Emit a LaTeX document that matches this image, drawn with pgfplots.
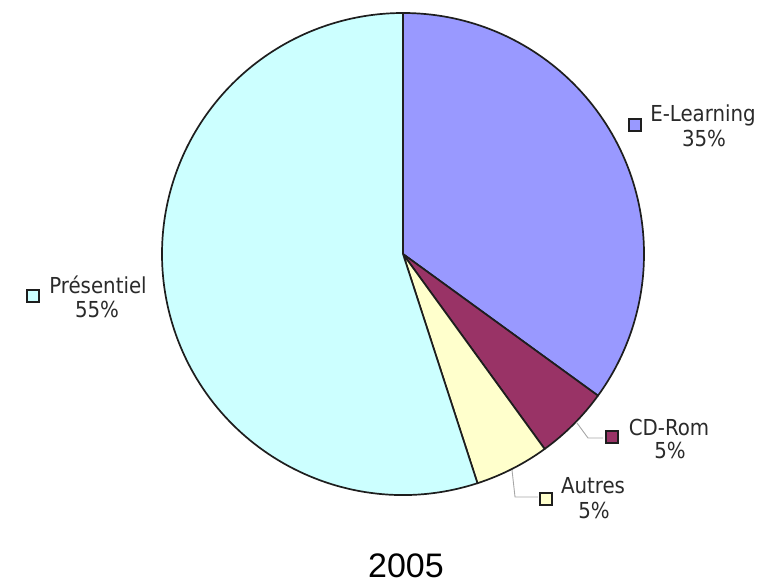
\documentclass[border=0pt]{standalone}
\usepackage{pgfplots}
\pgfplotsset{compat=1.18}
\usepackage{fontspec}
\setmainfont{DejaVu Sans Condensed}
\newfontfamily\ttlfont{Liberation Sans}
\definecolor{elc}{HTML}{9999FF}
\definecolor{cdc}{HTML}{993366}
\definecolor{auc}{HTML}{FFFFCC}
\definecolor{prc}{HTML}{CCFFFF}
\definecolor{txt}{HTML}{2A2A2A}
\definecolor{edge}{HTML}{1E1E1E}
\begin{document}
\begin{tikzpicture}
% shares in percent: E-Learning 35, CD-Rom 5, Autres 5, Presentiel 55
\pgfmathsetmacro\aA{90}
\pgfmathsetmacro\aB{\aA-35*3.6}
\pgfmathsetmacro\aC{\aB-5*3.6}
\pgfmathsetmacro\aD{\aC-5*3.6}
\pgfmathsetmacro\aE{\aD-55*3.6}
\begin{axis}[scale only axis, width=770pt, height=587pt,
  xmin=0, xmax=770, ymin=0, ymax=587, hide axis, clip=false]
\coordinate (bl) at (axis cs:0,0);
\coordinate (tr) at (axis cs:770,587);
\fill[elc, draw=edge, line width=1.7pt, line join=round] (axis cs:403,333) -- +(\aA:241pt) arc[start angle=\aA, end angle=\aB, radius=241pt] -- cycle;
\fill[cdc, draw=edge, line width=1.7pt, line join=round] (axis cs:403,333) -- +(\aB:241pt) arc[start angle=\aB, end angle=\aC, radius=241pt] -- cycle;
\fill[auc, draw=edge, line width=1.7pt, line join=round] (axis cs:403,333) -- +(\aC:241pt) arc[start angle=\aC, end angle=\aD, radius=241pt] -- cycle;
\fill[prc, draw=edge, line width=1.7pt, line join=round] (axis cs:403,333) -- +(\aD:241pt) arc[start angle=\aD, end angle=\aE, radius=241pt] -- cycle;
% leader lines
\addplot[color=gray!70, line width=0.9pt, no markers] coordinates {(577,164) (588,149) (603,149)};
\addplot[color=gray!70, line width=0.9pt, no markers] coordinates {(512,117) (515,90) (538,90)};
% legend keys
\addplot[only marks, mark=square*, mark size=6pt, mark options={fill=elc, draw=edge, line width=1.5pt}] coordinates {(635,462)};
\addplot[only marks, mark=square*, mark size=6pt, mark options={fill=prc, draw=edge, line width=1.5pt}] coordinates {(33,291)};
\addplot[only marks, mark=square*, mark size=6pt, mark options={fill=cdc, draw=edge, line width=1.5pt}] coordinates {(612,150)};
\addplot[only marks, mark=square*, mark size=6pt, mark options={fill=auc, draw=edge, line width=1.5pt}] coordinates {(546,88)};
% labels
\begin{scope}[every node/.style={anchor=base, inner sep=0pt, text=txt, font=\fontsize{22}{26}\selectfont}]
\node at (axis cs:703,465) {E-Learning};
\node at (axis cs:704,440) {35\%};
\node at (axis cs:98,294) {Présentiel};
\node at (axis cs:97,270) {55\%};
\node at (axis cs:669,152) {CD-Rom};
\node at (axis cs:670,129) {5\%};
\node at (axis cs:593,94) {Autres};
\node at (axis cs:594,69) {5\%};
\end{scope}
\node[anchor=base, inner sep=0pt, font=\ttlfont\fontsize{34}{40}\selectfont] at (axis cs:406,10) {2005};
\end{axis}
\pgfresetboundingbox
\useasboundingbox (bl) rectangle (tr);
\end{tikzpicture}
\end{document}
